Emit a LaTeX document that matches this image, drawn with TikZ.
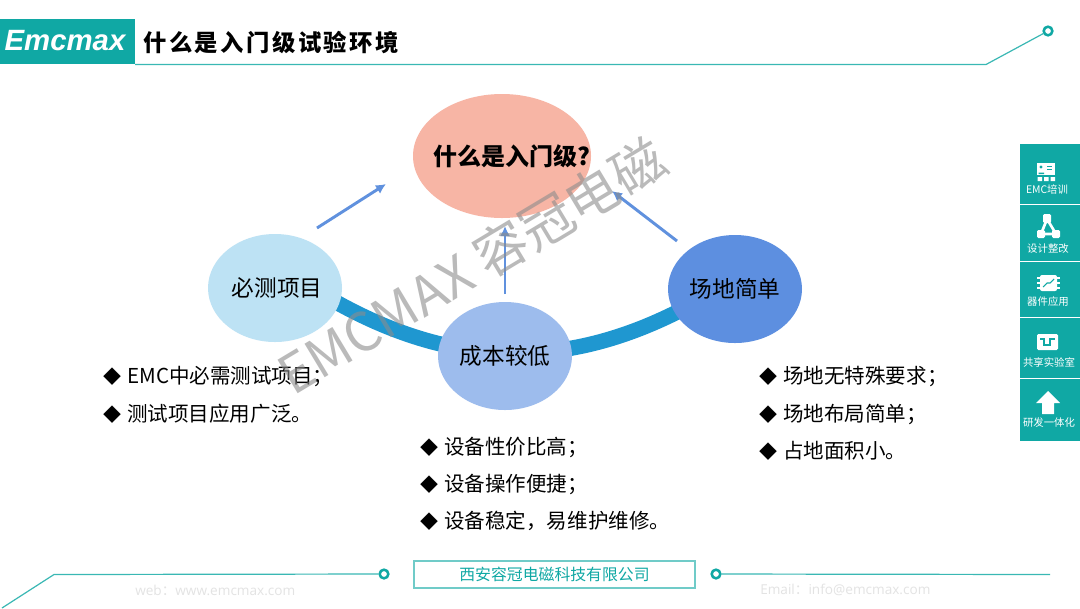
\documentclass[tikz,border=0pt]{standalone}
\usepackage{fontspec}
\setmainfont{Noto Sans CJK SC}
\newfontfamily\cjkfont{Noto Sans CJK SC}
\newfontfamily\logofont{Liberation Sans}
\newfontfamily\titlefont[LetterSpace=10.6]{Noto Sans CJK SC}
\newfontfamily\webfont{Open Sans}
\usetikzlibrary{arrows.meta,positioning,shapes.geometric,backgrounds}
\definecolor{teal}{RGB}{16,168,164}
\definecolor{tealline}{RGB}{58,184,180}
\definecolor{peach}{RGB}{247,181,165}
\definecolor{paleblue}{RGB}{189,226,244}
\definecolor{midblue}{RGB}{157,188,237}
\definecolor{deepblue}{RGB}{93,143,224}
\definecolor{bandblue}{RGB}{31,151,208}
\definecolor{arrowblue}{RGB}{96,145,222}
\newcommand{\bull}{\makebox[16.5pt][l]{\hspace{-1pt}\fontsize{13.5}{14}\selectfont ◆}}

\begin{document}
\begin{tikzpicture}[x=.75pt,y=-.75pt,
  round/.style={ellipse,inner sep=0pt,minimum width=100.5pt,minimum height=81pt,text=black,font=\fontsize{17}{20}\selectfont},
  a/.style={-{Latex[length=7.5pt,width=7.5pt]},line width=2.2pt,draw=arrowblue},
  band/.style={line width=11.5pt,draw=bandblue,shorten <=-8pt,shorten >=-8pt},
  item/.style={anchor=west,inner sep=0pt,text=black,font=\fontsize{15.4}{18}\selectfont},
  rule/.style={line width=.9pt,draw=tealline},
  dot/.style={circle,draw=teal,fill=white,line width=1.9pt,inner sep=0pt,minimum size=6.5pt},
  tab/.style={rectangle,fill=teal,inner sep=0pt,minimum width=45pt},
  tablabel/.style={text=white,inner sep=0pt,font=\fontsize{7.8}{9}\selectfont},
  ghost/.style={text=black!11,inner sep=0pt,font=\webfont\fontsize{10.2}{12}\selectfont}]
  \useasboundingbox (0,0) rectangle (1080,608);

  % header
  \node[rectangle,fill=teal,inner sep=0pt,minimum width=101.25pt,minimum height=33.75pt] (logo) at (67.5,41.5) {};
  \node[text=white,inner sep=0pt,font=\logofont\bfseries\itshape\fontsize{22}{26}\selectfont] (logotext) at (65,41) {Emcmax};
  \node[anchor=west,inner sep=0pt,text=black,font=\titlefont\bfseries\fontsize{17.5}{21}\selectfont] (title) at (143,43) {什么是入门级试验环境};
  \node[dot] (dottop) at (1048,31) {};
  \coordinate (headl) at (135,64.5);
  \coordinate (headr) at (986,64.5);
  \draw[rule] (headl) -- (headr) -- (dottop);

  % circles
  \node[round,fill=peach,minimum width=133.5pt,minimum height=93pt,font=\bfseries\fontsize{18}{20}\selectfont] (what) at (502,156) {\makebox[0pt]{\hspace{15pt}什么是入门级?}};
  \node[round,fill=paleblue] (must) at (275,288) {\hspace{3pt}必测项目};
  \node[round,fill=midblue] (cost) at (505,356) {成本较低};
  \node[round,fill=deepblue] (site) at (735,289) {场地简单};
  \begin{pgfonlayer}{background}
    \fill[white] (0,0) rectangle (1080,608);
    \draw[band] (must.-14) .. controls (451,368) and (564,371) .. (site.202);
  \end{pgfonlayer}

  % arrows
  \coordinate (musta) at (317,228);
  \coordinate (whatl) at (386,184);
  \coordinate (costa) at (505,294);
  \coordinate (whatb) at (505,226);
  \coordinate (sitea) at (677,241);
  \coordinate (whatr) at (612,191);
  \draw[a] (musta) -- (whatl);
  \draw[a] (costa) -- (whatb);
  \draw[a] (sitea) -- (whatr);

  % lists
  \node[item] (must1) at (105,377) {\bull EMC中必需测试项目；};
  \node[item] (must2) at (105,414) {\bull 测试项目应用广泛。};
  \node[item] (cost1) at (422,447) {\bull 设备性价比高；};
  \node[item] (cost2) at (422,484) {\bull 设备操作便捷；};
  \node[item] (cost3) at (422,521) {\bull 设备稳定，易维护维修。};
  \node[item] (site1) at (761,377) {\bull 场地无特殊要求；};
  \node[item] (site2) at (761,414) {\bull 场地布局简单；};
  \node[item] (site3) at (761,451) {\bull 占地面积小。};

  % side bar
  \node[tab,minimum height=45pt] (tab1) at (1050,174) {};
  \node[tab,minimum height=42pt] (tab2) at (1050,233) {};
  \node[tab,minimum height=41.25pt] (tab3) at (1050,289.5) {};
  \node[tab,minimum height=45pt] (tab4) at (1050,348) {};
  \node[tab,minimum height=46.5pt] (tab5) at (1050,410) {};
  \node[tablabel] (lab1) at (1047,190) {EMC培训};
  \node[tablabel] (lab2) at (1048,249) {设计整改};
  \node[tablabel] (lab3) at (1048,302) {器件应用};
  \node[tablabel] (lab4) at (1049,362) {共享实验室};
  \node[tablabel] (lab5) at (1049,423) {研发一体化};
  % icons
  \fill[white] (1037,163) rectangle (1055,175);
  \fill[teal] (1041,167) circle (1.6) (1038.5,172.5) rectangle (1044,174);
  \draw[teal,line width=.6pt] (1047,166) -- (1052,166) (1047,169) -- (1052,169);
  \fill[white] (1037.5,177) rectangle (1042,181) (1044,177) rectangle (1048.5,181) (1050.5,177) rectangle (1055,181);
  \draw[white,line width=2pt] (1047,219) -- (1041,234) -- (1056,234) -- cycle;
  \fill[white,rounded corners=1pt] (1043,214) rectangle (1051,223) (1037,230) rectangle (1045,238) (1052,230) rectangle (1060,238);
  \fill[white,rounded corners=1.5pt] (1040,275) rectangle (1057,291);
  \draw[white,line width=.8pt] (1037,278) -- (1060,278) (1037,283) -- (1060,283) (1037,288) -- (1060,288);
  \draw[teal,line width=.8pt] (1043,287) -- (1047,283) -- (1050,283) -- (1054,279);
  \fill[white,rounded corners=1pt] (1037,334) rectangle (1058,350);
  \draw[teal,line width=1.1pt] (1040,339) -- (1044,339) -- (1044,345) -- (1050,345) -- (1050,339) -- (1055,339);
  \fill[white] (1048,391) -- (1060,403) -- (1054,403) -- (1054,414) -- (1042,414) -- (1042,403) -- (1036,403) -- cycle;

  % footer
  \node[rectangle,draw=teal!60,line width=.8pt,inner sep=0pt,minimum width=210.75pt,minimum height=20.25pt,text=teal,font=\fontsize{11.9}{15}\selectfont] (company) at (554.5,574.5) {西安容冠电磁科技有限公司};
  \node[dot] (dotl) at (384,574) {};
  \node[dot] (dotr) at (716,574) {};
  \coordinate (foota) at (2,608);
  \coordinate (footb) at (54,574.5);
  \coordinate (footc) at (1050,574.5);
  \draw[rule] (foota) -- (footb) -- (dotl);
  \draw[rule] (dotr) -- (footc);
  \node[ghost,anchor=west] (web) at (135,590) {web{\cjkfont：}www.emcmax.com};
  \node[ghost,anchor=west] (mail) at (760,590) {Email{\cjkfont：}info@emcmax.com};

  % watermark
  \node[rotate=31,inner sep=0pt,text=black!45,opacity=.6,font=\fontsize{40}{46}\selectfont] (mark) at (472,266) {EMCMAX 容冠电磁};
\end{tikzpicture}
\end{document}
